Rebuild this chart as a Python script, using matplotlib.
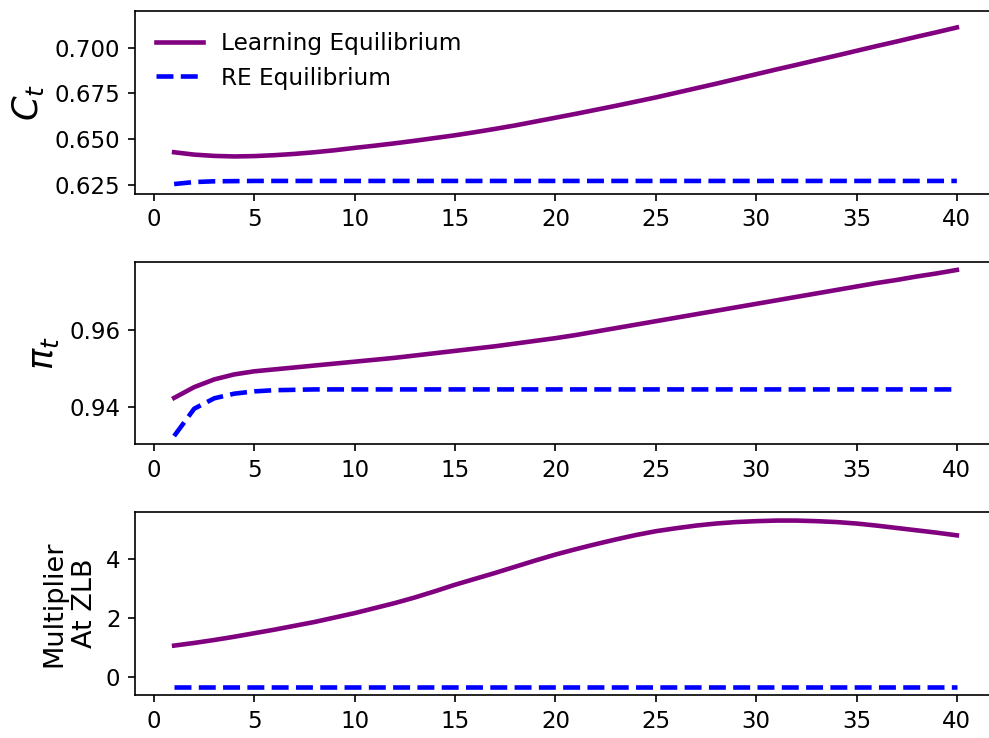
import numpy as np
from matplotlib import pyplot as plt

# periods
t = np.arange(1, 41)

# consumption
c_learning = [0.6427, 0.6414, 0.6407, 0.6404, 0.6406, 0.6411, 0.6418, 0.6427, 0.6438, 0.6451,
              0.6463, 0.6476, 0.6490, 0.6505, 0.6520, 0.6537, 0.6555, 0.6574, 0.6595, 0.6616,
              0.6637, 0.6659, 0.6681, 0.6704, 0.6727, 0.6752, 0.6777, 0.6802, 0.6828, 0.6854,
              0.6880, 0.6905, 0.6931, 0.6956, 0.6982, 0.7008, 0.7033, 0.7059, 0.7084, 0.7110]
c_re = [0.6253, 0.6264, 0.6268, 0.6269] + [0.6270] * 36

# inflation
pi_learning = [0.9423, 0.9451, 0.9471, 0.9484, 0.9492, 0.9497, 0.9502, 0.9507, 0.9512, 0.9517,
               0.9522, 0.9527, 0.9533, 0.9539, 0.9545, 0.9551, 0.9557, 0.9564, 0.9571, 0.9578,
               0.9586, 0.9595, 0.9604, 0.9613, 0.9622, 0.9631, 0.9640, 0.9649, 0.9658, 0.9667,
               0.9676, 0.9685, 0.9694, 0.9703, 0.9712, 0.9721, 0.9729, 0.9738, 0.9746, 0.9755]
pi_re = [0.9324, 0.9395, 0.9422, 0.9434, 0.9440, 0.9443, 0.9444] + [0.9445] * 33

# multiplier at the ZLB
m_learning = [1.06, 1.15, 1.25, 1.36, 1.48, 1.60, 1.73, 1.86, 2.01, 2.16,
              2.33, 2.50, 2.69, 2.90, 3.12, 3.32, 3.52, 3.73, 3.94, 4.14,
              4.32, 4.49, 4.65, 4.80, 4.93, 5.03, 5.12, 5.19, 5.24, 5.27,
              5.29, 5.29, 5.27, 5.24, 5.19, 5.12, 5.04, 4.96, 4.88, 4.79]
m_re = [-0.33] * 40

fig, axes = plt.subplots(3, 1, figsize=(989 / 150, 738 / 150), dpi=150)
fig.subplots_adjust(left=135 / 989, right=996 / 989, top=1 - 11 / 738,
                    bottom=1 - 695 / 738, hspace=68 / 183)

panels = [(c_learning, c_re, r'$C_t$', 17),
          (pi_learning, pi_re, r'$\pi_t$', 17),
          (m_learning, m_re, 'Multiplier\nAt ZLB', 13)]

for ax, (learn, re, label, size) in zip(axes, panels):
    ax.plot(t, learn, color='purple', lw=2.2, label='Learning Equilibrium')
    ax.plot(t, re, color='blue', lw=2.2, ls='--', label='RE Equilibrium')
    ax.set_ylabel(label, fontsize=size)
    ax.set_xticks(range(0, 41, 5))
    ax.tick_params(labelsize=11)

axes[0].set_ylim(0.62, 0.72)
axes[0].set_yticks([0.625, 0.650, 0.675, 0.700])
axes[1].set_yticks([0.94, 0.96])
axes[2].set_yticks([0, 2, 4])
axes[0].legend(loc='upper left', frameon=False, fontsize=11.2)

plt.savefig('out.png', dpi=150)
